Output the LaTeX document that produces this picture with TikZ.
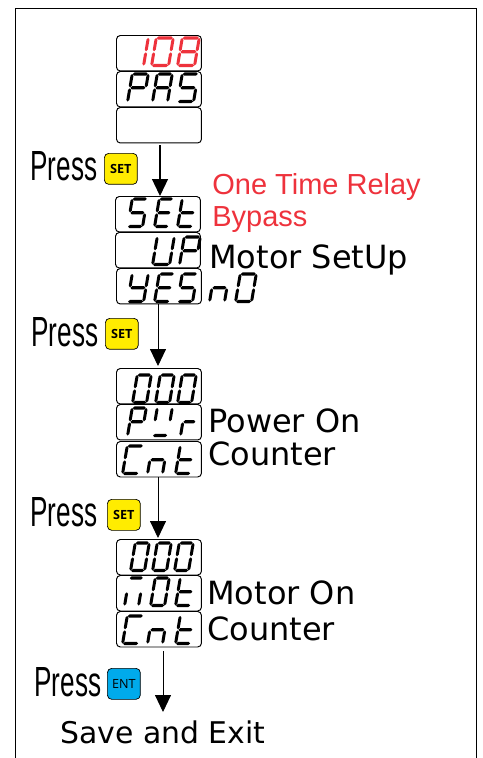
\documentclass[tikz,border=0pt]{standalone}
\usepackage{fontspec}
\setmainfont{DejaVu Sans}
\newfontfamily\pressfont[FakeStretch=0.62]{Liberation Sans}
\newfontfamily\btnfont{Open Sans}
\newfontfamily\redfont{Liberation Sans}
\definecolor{segred}{RGB}{238,50,60}
\definecolor{btnyellow}{RGB}{255,236,0}
\definecolor{btnblue}{RGB}{0,170,235}
\newcommand{\hsegm}[3]{\fill (#1,#3) -- (#1+1.6,#3+1.6) -- (#2-1.6,#3+1.6) -- (#2,#3) -- (#2-1.6,#3-1.6) -- (#1+1.6,#3-1.6) -- cycle;}
\newcommand{\vsegm}[3]{\fill (#1,#2) -- (#1+1.5,#2+1.6) -- (#1+1.5,#3-1.6) -- (#1,#3) -- (#1-1.5,#3-1.6) -- (#1-1.5,#2+1.6) -- cycle;}
\newcommand{\sw}{15}
\newcommand{\sega}{\hsegm{1}{\sw}{28}}
\newcommand{\segb}{\vsegm{\sw+.5}{14.7}{28}}
\newcommand{\segc}{\vsegm{\sw+.5}{.5}{13.7}}
\newcommand{\segd}{\hsegm{1}{\sw}{.5}}
\newcommand{\sege}{\vsegm{.5}{.5}{13.7}}
\newcommand{\segf}{\vsegm{.5}{14.7}{28}}
\newcommand{\segg}{\hsegm{1}{\sw}{14.2}}
% \glyph[colour]{x}{baseline y}{segment width}{segments}
\newcommand{\glyph}[5][black]{\begin{scope}[shift={(#2,#3)},y=0.02cm,xslant=.17,fill=#1]\renewcommand{\sw}{#4}#5\end{scope}}
\usetikzlibrary{arrows.meta}
\tikzset{
 x=0.02cm,y=-0.02cm,
 dispbox/.style={draw=black,line width=.55pt,rounded corners=2.2pt,fill=white,minimum width=1.7cm,minimum height=.71cm,inner sep=0,anchor=north west},
 flowarrow/.style={draw=black,line width=.75pt,-{Triangle[length=.34cm,width=.32cm]}},
 presstext/.style={font=\pressfont\fontsize{24}{24}\selectfont,anchor=base west,inner sep=0},
 btn/.style={draw=black,line width=.4pt,rounded corners=2.5pt,minimum width=.66cm,minimum height=.62cm,inner sep=0,anchor=north west},
 btnset/.style={btn,fill=btnyellow,font=\btnfont\bfseries\fontsize{7.2}{8}\selectfont},
 btnent/.style={btn,fill=btnblue,font=\btnfont\fontsize{7.2}{8}\selectfont},
 label/.style={font=\fontsize{18.2}{20}\selectfont,anchor=base west,inner sep=0},
 redlabel/.style={font=\redfont\fontsize{16.5}{20}\selectfont,text=segred,anchor=base west,inner sep=0},
}
\begin{document}
\begin{tikzpicture}
\useasboundingbox (0,0) rectangle (483,758);
\coordinate (bl) at (15,758);
\coordinate (tl) at (15,8);
\coordinate (tr) at (476,8);
\coordinate (br) at (476,758);
\draw[line width=.55pt] (bl) -- (tl) -- (tr) -- (br);
% group 1
\node[dispbox] (a1) at (116,35) {};
\node[dispbox] (a2) at (116,71) {};
\node[dispbox] (a3) at (116,107) {};
\glyph[segred]{126}{66}{17}{\segb\segc}
\glyph[segred]{151}{66}{17}{\sega\segb\segc\segd\sege\segf}
\glyph[segred]{177}{66}{17}{\sega\segb\segc\segd\sege\segf\segg}
\glyph{127}{102}{16}{\sega\segb\sege\segf\segg}
\glyph{152}{102}{15}{\sega\segb\segc\sege\segf\segg}
\glyph{177}{102}{16}{\sega\segc\segd\segf\segg}
% group 2
\node[dispbox] (b1) at (115,196) {};
\node[dispbox] (b2) at (115,232) {};
\node[dispbox] (b3) at (116,268) {};
\glyph{127}{227}{15}{\sega\segc\segd\segf\segg}
\glyph{154}{227}{14}{\sega\segd\sege\segf\segg}
\glyph{177}{227}{15}{\segd\sege\segf\segg}
\glyph{152}{265}{17}{\segb\segc\segd\sege\segf}
\glyph{179}{265}{16}{\sega\segb\sege\segf\segg}
\glyph{127}{302}{16}{\segb\segc\segd\segf\segg}
\glyph{154}{302}{15}{\sega\segd\sege\segf\segg}
\glyph{177}{302}{15}{\sega\segc\segd\segf\segg}
\glyph{209}{302}{15}{\segc\sege\segg}
\glyph{235}{302}{16}{\sega\segb\segc\segd\sege\segf}
% group 3
\node[dispbox] (c1) at (116,368) {};
\node[dispbox] (c2) at (116,404) {};
\node[dispbox] (c3) at (116,441) {};
\glyph{132}{403}{14}{\sega\segb\segc\segd\sege\segf}
\glyph{155}{403}{14}{\sega\segb\segc\segd\sege\segf}
\glyph{177}{403}{14}{\sega\segb\segc\segd\sege\segf}
\glyph{127}{436}{14}{\sega\segb\sege\segf\segg}
\glyph{152}{436}{15}{\segb\segd\segf}
\glyph{180}{436}{13}{\sege\segg}
\glyph{122}{474}{16}{\sega\segd\sege\segf}
\glyph{147}{474}{15}{\segc\sege\segg}
\glyph{175}{474}{15}{\segd\sege\segf\segg}
% group 4
\node[dispbox] (d1) at (116,539) {};
\node[dispbox] (d2) at (116,575) {};
\node[dispbox] (d3) at (116,611) {};
\glyph{130}{571}{14}{\sega\segb\segc\segd\sege\segf}
\glyph{152}{571}{14}{\sega\segb\segc\segd\sege\segf}
\glyph{174}{571}{14}{\sega\segb\segc\segd\sege\segf}
\glyph{124}{606}{14}{\sega\segc\sege}
\glyph{150}{606}{14}{\sega\segb\segc\segd\sege\segf}
\glyph{175}{606}{15}{\segd\sege\segf\segg}
\glyph{122}{644}{16}{\sega\segd\sege\segf}
\glyph{147}{644}{15}{\segc\sege\segg}
\glyph{175}{644}{15}{\segd\sege\segf\segg}
% press labels and buttons
\node[presstext] (p1) at (30,180) {Press};
\node[btnset] (s1) at (104,153) {SET};
\node[presstext] (p2) at (31,346) {Press};
\node[btnset] (s2) at (105,318) {SET};
\node[presstext] (p3) at (30,526) {Press};
\node[btnset] (s3) at (107,499) {SET};
\node[presstext] (p4) at (34,696) {Press};
\node[btnent] (s4) at (107,668) {ENT};
% arrows
\coordinate (e1) at (160,196);
\coordinate (e2) at (158,366);
\coordinate (e3) at (158,538);
\coordinate (e4) at (163,712);
\draw[flowarrow] (a3.south -| e1) ++(0,2) -- (e1);
\draw[flowarrow,line width=.5pt] (b3.south -| e2) -- (e2);
\draw[flowarrow,line width=.5pt] (c3.south -| e3) -- (e3);
\draw[flowarrow,line width=.5pt] (d3.south -| e4) ++(0,4) -- (e4);
% labels
\node[redlabel] (t1) at (212,194) {One Time Relay};
\node[redlabel] (t2) at (212,226) {Bypass};
\node[label] (t3) at (209,268) {Motor SetUp};
\node[label] (t4) at (208,432) {Power On};
\node[label] (t5) at (208,465) {Counter};
\node[label] (t6) at (207,604) {Motor On};
\node[label] (t7) at (207,640) {Counter};
\node[label,font=\fontsize{17}{20}\selectfont] (t8) at (60,743) {Save and Exit};
\end{tikzpicture}
\end{document}
